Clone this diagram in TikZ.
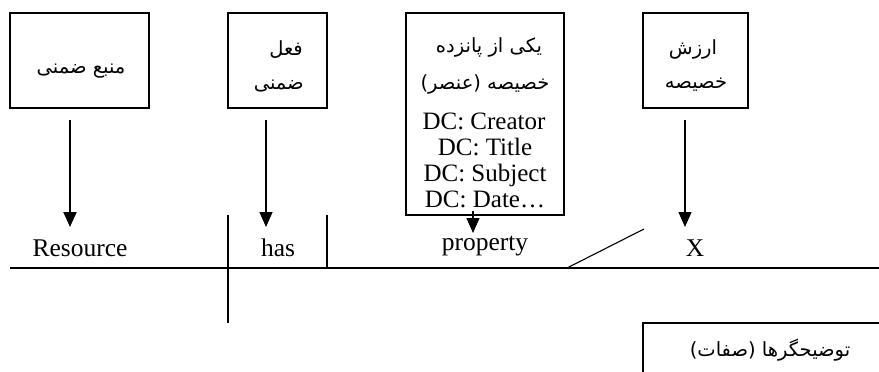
\documentclass[tikz,border=0pt]{standalone}
\usepackage{fontspec}
\setmainfont{Liberation Serif}
\newfontfamily\fa[Script=Arabic]{DejaVu Sans}
\TeXXeTstate=1
\usetikzlibrary{arrows.meta}
\newcommand{\rl}[1]{{\fa\beginR #1\endR}}
\begin{document}
\begin{tikzpicture}[x=1pt,y=-1pt,
  frame/.style={draw, line width=2.4pt, inner sep=0pt, rectangle},
  fatxt/.style={inner sep=0pt, font=\fontsize{19.5}{22}\selectfont},
  lbl/.style={inner sep=0pt, anchor=base, font=\fontsize{25.5}{28}\selectfont},
  dctxt/.style={inner sep=0pt, anchor=base, font=\fontsize{25}{27}\selectfont},
  arr/.style={-{Triangle[length=15pt,width=13pt]}},
  thick2/.style={line width=2.4pt},
  thin1/.style={line width=1.1pt}]
\useasboundingbox (0,0) rectangle (879,372);

% boxes
\node[frame, minimum width=139pt, minimum height=95pt] (b1) at (79.5,60.5) {};
\node[frame, minimum width=99pt, minimum height=95pt] (b2) at (277.5,60.5) {};
\node[frame, minimum width=158pt, minimum height=202pt] (b3) at (485,114) {};
\node[frame, minimum width=105pt, minimum height=95pt] (b4) at (695.5,60.5) {};

% box texts
\node[fatxt] (t1) at (81,71) {\rl{منبع ضمنی}};
\node[fatxt, anchor=east] (t2a) at (303,50) {\rl{فعل}};
\node[fatxt, anchor=east] (t2b) at (304,86) {\rl{ضمنی}};
\node[fatxt] (t3a) at (489,47) {\rl{یکی از پانزده}};
\node[fatxt] (t3b) at (485,84) {\rl{خصیصه (عنصر)}};
\node[dctxt] (d1) at (484,129) {DC: Creator};
\node[dctxt] (d2) at (485,155) {DC: Title};
\node[dctxt] (d3) at (485,181) {DC: Subject};
\node[dctxt] (d4) at (485,207) {DC: Date\ldots};
\node[fatxt] (t4a) at (693,49) {\rl{ارزش}};
\node[fatxt] (t4b) at (696,85) {\rl{خصیصه}};

% bottom labels
\node[lbl] (res) at (80,256) {Resource};
\node[lbl] (has) at (278,256) {has};
\node[lbl] (prop) at (485,250) {property};
\node[lbl] (x) at (695,256) {X};

% arrows
\coordinate (a1s) at (70,120);
\coordinate (a1e) at (70,227);
\coordinate (a2s) at (266,120);
\coordinate (a2e) at (266,227);
\coordinate (a3s) at (473,211);
\coordinate (a3e) at (473,233);
\coordinate (a4s) at (685,120);
\coordinate (a4e) at (685,227);
\draw[arr, line width=2pt] (a1s) -- (a1e);
\draw[arr, line width=1.3pt] (a2s) -- (a2e);
\draw[arr, line width=1.3pt] (a3s) -- (a3e);
\draw[arr, line width=1.3pt] (a4s) -- (a4e);

% base lines
\coordinate (hl) at (10,268);
\coordinate (hr) at (879,268);
\draw[thick2] (hl) -- (hr);
\coordinate (v1t) at (228,215);
\coordinate (v1b) at (228,323);
\draw[thick2] (v1t) -- (v1b);
\coordinate (v2t) at (327,215);
\coordinate (v2b) at (327,268);
\draw[thin1] (v2t) -- (v2b);
\coordinate (dg1) at (567,268);
\coordinate (dg2) at (644,229);
\draw[thin1] (dg1) -- (dg2);

% bottom box (partly outside)
\coordinate (bb1) at (643,372);
\coordinate (bb2) at (643,323);
\coordinate (bb3) at (879,323);
\draw[thick2] (bb1) -- (bb2) -- (bb3);
\node[fatxt] (desc) at (770,350) {\rl{توضیحگرها (صفات)}};
\end{tikzpicture}
\end{document}
